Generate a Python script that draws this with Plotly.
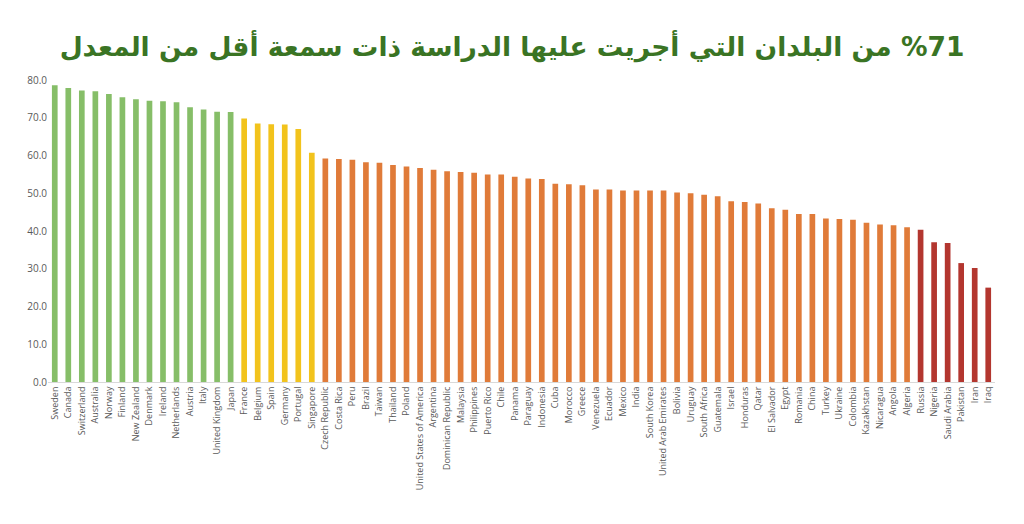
import plotly.graph_objects as go

countries = [
    "Sweden", "Canada", "Switzerland", "Australia", "Norway", "Finland", "New Zealand",
    "Denmark", "Ireland", "Netherlands", "Austria", "Italy", "United Kingdom", "Japan",
    "France", "Belgium", "Spain", "Germany", "Portugal", "Singapore",
    "Czech Republic", "Costa Rica", "Peru", "Brazil", "Taiwan", "Thailand", "Poland",
    "United States of America", "Argentina", "Dominican Republic", "Malaysia", "Philippines",
    "Puerto Rico", "Chile", "Panama", "Paraguay", "Indonesia", "Cuba", "Morocco", "Greece",
    "Venezuela", "Ecuador", "Mexico", "India", "South Korea", "United Arab Emirates",
    "Bolivia", "Uruguay", "South Africa", "Guatemala", "Israel", "Honduras", "Qatar",
    "El Salvador", "Egypt", "Romania", "China", "Turkey", "Ukraine", "Colombia",
    "Kazakhstan", "Nicaragua", "Angola", "Algeria",
    "Russia", "Nigeria", "Saudi Arabia", "Pakistan", "Iran", "Iraq",
]

values = [
    78.6, 77.9, 77.2, 77.0, 76.3, 75.4, 74.9,
    74.5, 74.4, 74.1, 72.8, 72.2, 71.6, 71.5,
    69.8, 68.5, 68.3, 68.2, 67.0, 60.7,
    59.2, 59.1, 58.9, 58.2, 58.1, 57.5, 57.1,
    56.7, 56.2, 55.8, 55.6, 55.4,
    55.0, 55.0, 54.4, 53.9, 53.8, 52.5, 52.4, 52.1,
    51.0, 51.0, 50.7, 50.7, 50.7, 50.7,
    50.2, 50.0, 49.6, 49.2, 47.9, 47.7, 47.3,
    46.0, 45.6, 44.5, 44.5, 43.3, 43.2, 43.0,
    42.2, 41.7, 41.5, 41.0,
    40.3, 37.0, 36.8, 31.5, 30.2, 25.0,
]

# reputation tier of each country (green / yellow / orange / red groups)
tier_counts = [("high", 14), ("upper", 6), ("lower", 44), ("lowest", 6)]
tier_colors = {"high": "#86BE68", "upper": "#F2C31C", "lower": "#E07B39", "lowest": "#B3362F"}

tiers = []
for name, n in tier_counts:
    tiers += [name] * n
bar_colors = [tier_colors[t] for t in tiers]

y_ticks = [0, 10, 20, 30, 40, 50, 60, 70, 80]

title_text = "\u202B%71 من البلدان التي أجريت عليها الدراسة ذات سمعة أقل من المعدل\u202C"

fig = go.Figure(
    go.Bar(
        x=countries,
        y=values,
        marker=dict(color=bar_colors, line=dict(width=0)),
        hoverinfo="x+y",
    )
)

fig.update_layout(
    width=1024,
    height=524,
    margin=dict(l=48, r=29, t=80, b=142),
    paper_bgcolor="white",
    plot_bgcolor="white",
    bargap=0.58,
    showlegend=False,
    title=dict(
        text="<b>" + title_text + "</b>",
        x=0.5,
        xanchor="center",
        y=0.91,
        yanchor="middle",
        font=dict(family="DejaVu Sans", size=26.5, color="#3A7424"),
    ),
)

fig.update_xaxes(
    type="category",
    tickangle=-90,
    tickfont=dict(family="Open Sans", size=9, color="#595959"),
    showline=True,
    linecolor="#D9D9D9",
    linewidth=1,
    ticks="",
    showgrid=False,
)

fig.update_yaxes(
    range=[0, 80],
    tickvals=y_ticks,
    tickformat=".1f",
    tickfont=dict(family="Open Sans", size=10, color="#595959"),
    showgrid=False,
    zeroline=False,
    showline=False,
    ticks="",
)

fig.write_html("out.html")
